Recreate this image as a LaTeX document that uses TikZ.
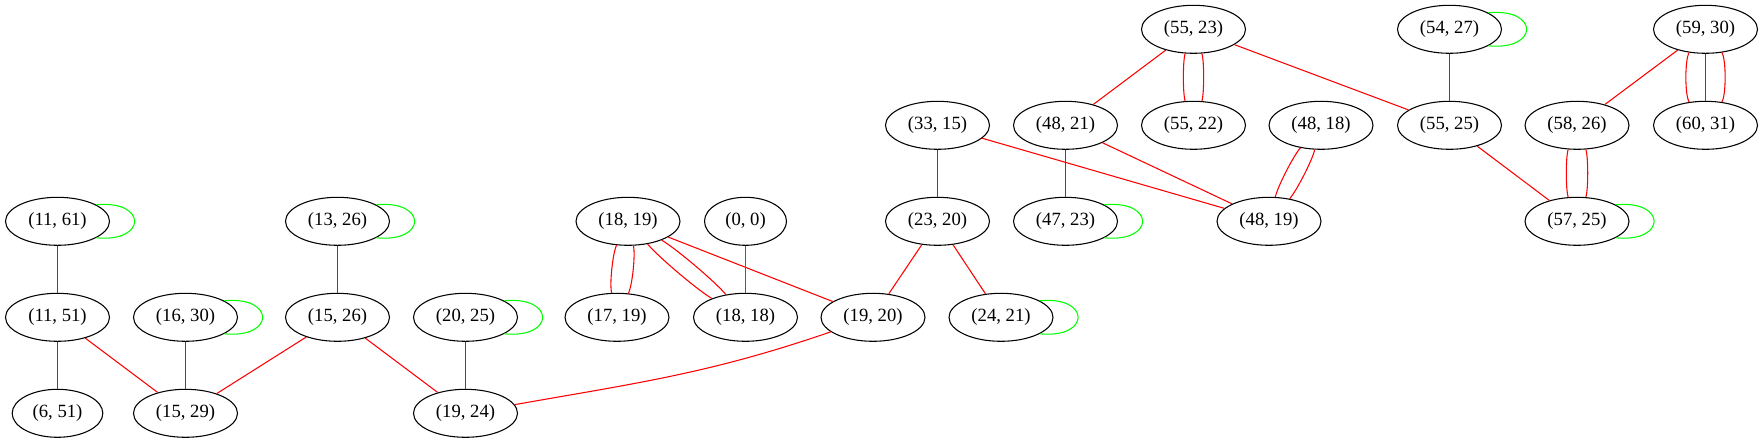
\documentclass[tikz,border=0pt]{standalone}
\usepackage{fontspec}
\setmainfont{Liberation Serif}
\usetikzlibrary{shapes.geometric}
\definecolor{gvred}{RGB}{255,0,0}
\definecolor{gvgreen}{RGB}{0,255,0}
\definecolor{gvpurple}{RGB}{160,32,240}
\begin{document}
\begin{tikzpicture}[x=0.75pt,y=0.75pt,
  nd/.style={ellipse, draw, line width=0.8pt, minimum width=78pt, minimum height=36pt,
             inner sep=0pt, font=\fontsize{14}{16}\selectfont},
  e/.style={draw=gvred, line width=0.8pt},
  lp/.style={draw=gvgreen, line width=0.8pt},
  pe/.style={draw=gvpurple, line width=0.8pt}]
\useasboundingbox (0,0) rectangle (1763,443);
% row 0
\node[nd] (n5523) at (1193.5,413.7) {(55, 23)};
\node[nd] (n5427) at (1449.5,413.7) {(54, 27)};
\node[nd] (n5930) at (1705.5,413.7) {(59, 30)};
% row 1
\node[nd] (n3315) at (937.5,317.7) {(33, 15)};
\node[nd] (n4821) at (1065.5,317.7) {(48, 21)};
\node[nd] (n5522) at (1193.5,317.7) {(55, 22)};
\node[nd] (n4818) at (1321,317.7) {(48, 18)};
\node[nd] (n5525) at (1449.5,317.7) {(55, 25)};
\node[nd] (n5826) at (1577,317.7) {(58, 26)};
\node[nd] (n6031) at (1705.5,317.7) {(60, 31)};
% row 2
\node[nd] (n1161) at (57.5,221.7) {(11, 61)};
\node[nd] (n1326) at (337.5,221.7) {(13, 26)};
\node[nd] (n1819) at (628,221.7) {(18, 19)};
\node[nd, minimum width=61.5pt] (n00) at (745.5,221.7) {(0, 0)};
\node[nd] (n2320) at (937.5,221.7) {(23, 20)};
\node[nd] (n4723) at (1065.5,221.7) {(47, 23)};
\node[nd] (n4819) at (1269,221.7) {(48, 19)};
\node[nd] (n5725) at (1577,221.7) {(57, 25)};
% row 3
\node[nd] (n1151) at (57.5,125.7) {(11, 51)};
\node[nd] (n1630) at (185.5,125.7) {(16, 30)};
\node[nd] (n1526) at (337.5,125.7) {(15, 26)};
\node[nd] (n2025) at (465.5,125.7) {(20, 25)};
\node[nd] (n1719) at (617,125.7) {(17, 19)};
\node[nd] (n1818) at (745.5,125.7) {(18, 18)};
\node[nd] (n1920) at (873,125.7) {(19, 20)};
\node[nd] (n2421) at (1001,125.7) {(24, 21)};
% row 4
\node[nd, minimum width=68pt] (n651) at (57.5,29.7) {(6, 51)};
\node[nd] (n1529) at (185.5,29.7) {(15, 29)};
\node[nd] (n1924) at (465.5,29.7) {(19, 24)};

% edges
\draw[e] (n1161) -- (n1151);
\draw[e] (n1151) -- (n651);
\draw[e] (n1151) -- (n1529);
\draw[e] (n1630) -- (n1529);
\draw[e] (n1526) -- (n1529);
\draw[e] (n1326) -- (n1526);
\draw[e] (n1526) -- (n1924);
\draw[e] (n2025) -- (n1924);
\draw[e] (n1920) to[out=199, in=10] (n1924);
\draw[e] (n1819) to[bend left=19, looseness=0.5] (n1719);
\draw[e] (n1819) to[bend right=19, looseness=0.5] (n1719);
\draw[e] (n1819) to[bend left=10, looseness=0.5] (n1818);
\draw[e] (n1819) to[bend right=10, looseness=0.5] (n1818);
\draw[e] (n1819) -- (n1920);
\draw[pe] (n00) -- (n1818);
\draw[e] (n3315) -- (n2320);
\draw[e] (n2320) -- (n1920);
\draw[e] (n2320) -- (n2421);
\draw[e] (n3315) -- (n4819);
\draw[e] (n4821) -- (n4723);
\draw[e] (n4821) -- (n4819);
\draw[e] (n5523) -- (n4821);
\draw[e] (n5523) to[bend left=19, looseness=0.4] (n5522);
\draw[e] (n5523) to[bend right=19, looseness=0.4] (n5522);
\draw[e] (n5523) -- (n5525);
\draw[e] (n4818) to[bend left=14, looseness=0.5] (n4819);
\draw[e] (n4818) to[bend right=14, looseness=0.5] (n4819);
\draw[e] (n5427) -- (n5525);
\draw[e] (n5525) -- (n5725);
\draw[e] (n5930) -- (n5826);
\draw[e] (n5930) -- (n6031);
\draw[e] (n5930) to[bend left=35, looseness=0.4] (n6031);
\draw[e] (n5930) to[bend right=35, looseness=0.4] (n6031);
\draw[e] (n5826) to[bend left=20, looseness=0.4] (n5725);
\draw[e] (n5826) to[bend right=20, looseness=0.4] (n5725);

% self loops
\foreach \n in {n1161,n1326,n1630,n2025,n2421,n4723,n5427,n5725}{
  \draw[lp] (\n.23) .. controls +(51,5) and +(51,-5) .. (\n.-23);
}
\end{tikzpicture}
\end{document}
